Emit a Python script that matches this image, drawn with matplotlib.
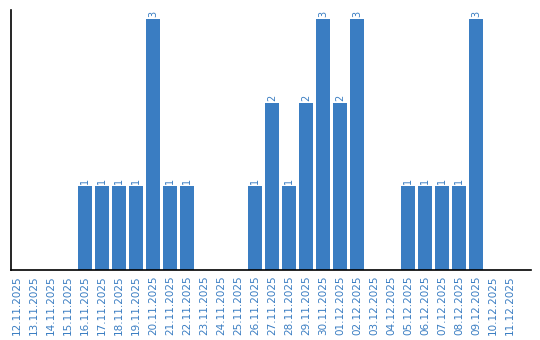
import matplotlib
matplotlib.use("Agg")
import matplotlib.pyplot as plt

dates = ["12.11.2025","13.11.2025","14.11.2025","15.11.2025","16.11.2025","17.11.2025",
         "18.11.2025","19.11.2025","20.11.2025","21.11.2025","22.11.2025","23.11.2025",
         "24.11.2025","25.11.2025","26.11.2025","27.11.2025","28.11.2025","29.11.2025",
         "30.11.2025","01.12.2025","02.12.2025","03.12.2025","04.12.2025","05.12.2025",
         "06.12.2025","07.12.2025","08.12.2025","09.12.2025","10.12.2025","11.12.2025"]
values = [0,0,0,0,1,1,1,1,3,1,1,0,0,0,1,2,1,2,3,2,3,0,0,1,1,1,1,3,0,0]

color = "#3a7dc2"
fig = plt.figure(figsize=(5.4, 3.4), dpi=100)
ax = fig.add_axes([10.5/540, 1-270/340, (530.5-10.5)/540, 260/340])
x = list(range(len(dates)))
ax.bar(x, values, width=0.82, color=color)
for xi, v in zip(x, values):
    if v > 0:
        ax.text(xi, v + 0.025, str(v), rotation=90, ha="center", va="bottom",
                fontsize=7, color=color)
ax.set_xlim(-0.38, 30.21)
ax.set_ylim(0, 3.11)
ax.set_xticks(x)
ax.set_xticklabels(dates, rotation=90, fontsize=7.5, color=color)
ax.tick_params(axis="x", length=0, pad=4)
ax.set_yticks([])
ax.spines["top"].set_visible(False)
ax.spines["right"].set_visible(False)
ax.spines["left"].set_linewidth(1.2)
ax.spines["bottom"].set_linewidth(1.2)
fig.savefig("out.png", dpi=100)
